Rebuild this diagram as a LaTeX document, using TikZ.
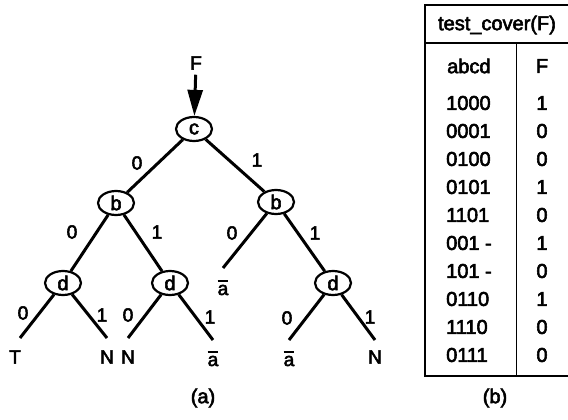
\documentclass[tikz,border=0pt]{standalone}
\usepackage{fontspec}
\setmainfont{Liberation Sans}[FakeBold=2.8]
\usetikzlibrary{shapes.geometric,arrows.meta}
\newcommand\fsz{\fontsize{19}{22}\selectfont}
\newcommand\fnd{\fontsize{20}{23}\selectfont}
\newcommand\ftb{\fontsize{20}{23}\selectfont}
\newcommand\abar{\hbox{\setbox0\hbox{a}\rlap{\raise13pt\hbox{\rule{\wd0}{2pt}}}\box0}}
\begin{document}
\begin{tikzpicture}[x=1pt,y=-1pt,
  vnode/.style={ellipse,draw,line width=2.2pt,minimum width=36pt,minimum height=24pt,inner sep=0pt,font=\fnd},
  tedge/.style={line width=3pt},
  lbl/.style={font=\fsz,inner sep=0pt},
  tbl/.style={font=\ftb,inner sep=0pt},
  tline/.style={line width=2pt},
  thin/.style={line width=1pt}]
\useasboundingbox (0,0) rectangle (568,420);
% tree nodes
\node[lbl,inner sep=5pt] (F) at (196,63) {F};
\node[vnode] (c) at (194,129) {c};
\node[vnode] (bL) at (116,203) {b};
\node[vnode] (bR) at (276,202) {b};
\node[vnode] (dL) at (63,283) {d};
\node[vnode] (dM) at (170,283) {d};
\node[vnode] (dR) at (333,283) {d};
\draw[line width=3pt,-{Triangle[length=26pt,width=15pt]}] (F) -- (c);
% leaf end points
\coordinate (eT) at (20,338);
\coordinate (eN1) at (107,338);
\coordinate (eN2) at (128,338);
\coordinate (eA1) at (213,340);
\coordinate (eA0) at (223,268);
\coordinate (eA2) at (289,340);
\coordinate (eN3) at (375,340);
% edges
\draw[tedge] (c) -- (bL);
\draw[tedge] (c) -- (bR);
\draw[tedge] (bL) -- (dL);
\draw[tedge] (bL) -- (dM);
\draw[tedge] (bR) -- (eA0);
\draw[tedge] (bR) -- (dR);
\draw[tedge] (dL) -- (eT);
\draw[tedge] (dL) -- (eN1);
\draw[tedge] (dM) -- (eN2);
\draw[tedge] (dM) -- (eA1);
\draw[tedge] (dR) -- (eA2);
\draw[tedge] (dR) -- (eN3);
% leaves
\node[lbl] (lT) at (15,357) {T};
\node[lbl] (lN1) at (107,357) {N};
\node[lbl] (lN2) at (128,357) {N};
\node[lbl,anchor=base] (lA1) at (213,366) {\abar};
\node[lbl,anchor=base] (lA0) at (223,295) {\abar};
\node[lbl,anchor=base] (lA2) at (289,366) {\abar};
\node[lbl] (lN3) at (375,357) {N};
% edge labels
\node[lbl] (l1) at (137,163) {0};
\node[lbl] (l2) at (257,160) {1};
\node[lbl] (l3) at (72,232) {0};
\node[lbl] (l4) at (157,232) {1};
\node[lbl] (l5) at (232,233) {0};
\node[lbl] (l6) at (315,233) {1};
\node[lbl] (l7) at (23,313) {0};
\node[lbl] (l8) at (102,315) {1};
\node[lbl] (l9) at (128,315) {0};
\node[lbl] (l10) at (210,317) {1};
\node[lbl] (l11) at (287,318) {0};
\node[lbl] (l12) at (370,317) {1};
\node[tbl] (capa) at (203,398) {(a)};
% table
\draw[tline] (568,5) -- (425,5) -- (425,376) -- (568,376);
\draw[line width=1.5pt] (425,43) -- (568,43);
\draw[thin] (516,43) -- (516,376);
\node[tbl] (title) at (497,25) {test\_cover(F)};
\node[tbl,anchor=west] (h1) at (447,66) {abcd};
\node[tbl] (h2) at (542,66) {F};
\foreach \i/\r/\f in {0/1000/1,1/0001/0,2/0100/0,3/0101/1,4/1101/0,5/001 -/1,6/101 -/0,7/0110/1,8/1110/0,9/0111/0}{
  \node[tbl,anchor=west] (r\i) at (446,{103+28*\i}) {\r};
  \node[tbl] (f\i) at (542,{103+28*\i}) {\f};
}
\node[tbl] (capb) at (495,398) {(b)};
\end{tikzpicture}
\end{document}
